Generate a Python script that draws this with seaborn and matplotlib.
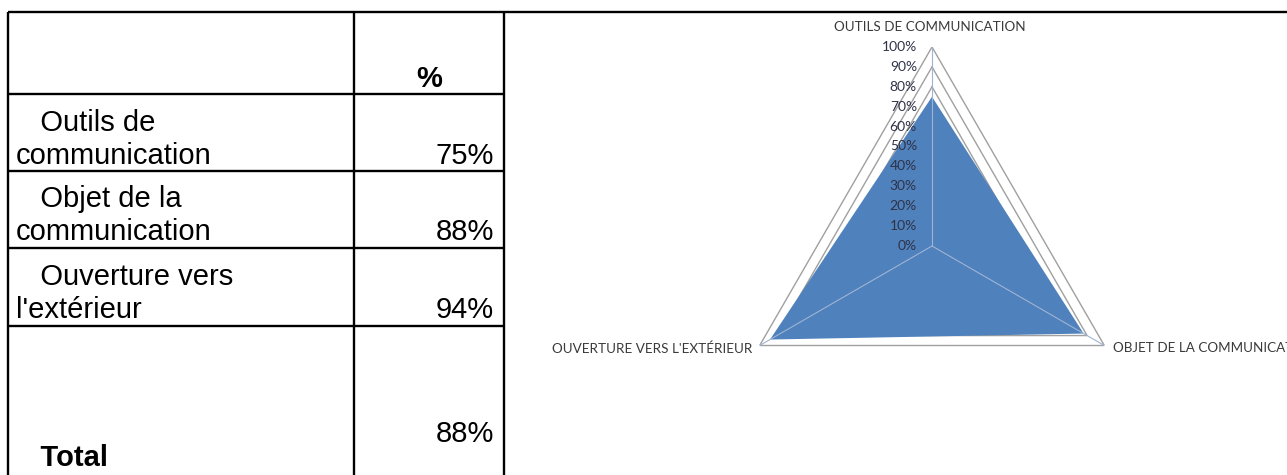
import matplotlib

matplotlib.use("Agg")

import matplotlib.pyplot as plt
import numpy as np
import seaborn as sns

# table content
HEADER = "%"
ROW_LABELS = [
    "   Outils de\ncommunication",
    "   Objet de la\ncommunication",
    "   Ouverture vers\nl'extérieur",
]
ROW_VALUES = ["75%", "88%", "94%"]
TOTAL_LABEL = "   Total"
TOTAL_VALUE = "88%"

# radar content
AXIS_LABELS = [
    "OUTILS DE COMMUNICATION",
    "OBJET DE LA COMMUNICATION",
    "OUVERTURE VERS L'EXTÉRIEUR",
]
SCORES = [0.75, 0.88, 0.94]
RING_LEVELS = [0.0, 0.1, 0.2, 0.3, 0.4, 0.5, 0.6, 0.7, 0.8, 0.9, 1.0]
RING_LABELS = ["0%", "10%", "20%", "30%", "40%", "50%", "60%", "70%", "80%", "90%", "100%"]

W, H = 1287, 475
FILL_COLOR = "#4F81BD"
GRID_COLOR = "#a0a0a0"
LABEL_COLOR = "#3a3a3a"


def draw_table(fig):
    ax = fig.add_axes([0, 0, 1, 1])
    ax.set_xlim(0, W)
    ax.set_ylim(H, 0)
    ax.axis("off")

    lw = 1.7
    ax.hlines(12, 8, W, color="black", lw=lw)
    ax.hlines([94, 171, 248, 326], 8, 504, color="black", lw=lw)
    ax.vlines([8, 354, 504], 12, H, color="black", lw=lw)

    size = 21
    ax.text(429, 87, HEADER, ha="center", va="baseline", fontsize=size,
            fontweight="bold", color="black")

    baselines = [164, 240, 318]
    step = 33
    for label, value, base in zip(ROW_LABELS, ROW_VALUES, baselines):
        lines = label.split("\n")
        for j, line in enumerate(lines):
            y = base - (len(lines) - 1 - j) * step
            ax.text(16, y, line, ha="left", va="baseline", fontsize=size, color="black")
        ax.text(494, base, value, ha="right", va="baseline", fontsize=size, color="black")

    ax.text(16, 466, TOTAL_LABEL, ha="left", va="baseline", fontsize=size,
            fontweight="bold", color="black")
    ax.text(494, 442, TOTAL_VALUE, ha="right", va="baseline", fontsize=size, color="black")


def draw_radar(fig):
    cx, cy, r = 932, 246, 199
    ax = fig.add_axes(
        [(cx - r) / W, (H - cy - r) / H, 2 * r / W, 2 * r / H], projection="polar"
    )
    ax.set_theta_offset(np.pi / 2)
    ax.set_theta_direction(-1)
    ax.set_ylim(0, 1)
    ax.grid(False)
    ax.set_xticks([])
    ax.set_yticks([])
    ax.spines["polar"].set_visible(False)
    ax.patch.set_alpha(0)

    angles = np.linspace(0, 2 * np.pi, len(SCORES), endpoint=False)
    closed = np.append(angles, angles[0])

    for lvl in RING_LEVELS[1:]:
        ax.plot(closed, [lvl] * len(closed), color=GRID_COLOR, lw=1.0, zorder=1)

    ax.fill(closed, SCORES + SCORES[:1], color=FILL_COLOR, lw=0, zorder=2)

    for a in angles:
        ax.plot([a, a], [0, 1], color="#9fb4d4", lw=0.8, zorder=3)

    font = ["Lato", "DejaVu Sans"]
    for lvl, lab in zip(RING_LEVELS, RING_LABELS):
        ax.annotate(lab, xy=(0, lvl), xytext=(-15, 0), textcoords="offset pixels",
                    ha="right", va="center", fontsize=10, color="#2f3347",
                    family=font, zorder=4, annotation_clip=False)

    offsets = [(-2, 20, "center"), (9, -3, "left"), (-7, -3, "right")]
    for a, lab, (dx, dy, ha) in zip(angles, AXIS_LABELS, offsets):
        ax.annotate(lab, xy=(a, 1.0), xytext=(dx, dy), textcoords="offset pixels",
                    ha=ha, va="center", fontsize=9.7, color=LABEL_COLOR,
                    family=font, annotation_clip=False)


def main():
    sns.set_theme(style="white")
    plt.rcParams["font.family"] = ["Liberation Sans", "DejaVu Sans"]

    fig = plt.figure(figsize=(W / 100, H / 100), dpi=100, facecolor="white")
    draw_table(fig)
    draw_radar(fig)
    fig.savefig("out.png", dpi=100, facecolor="white")
    plt.close(fig)


if __name__ == "__main__":
    main()
